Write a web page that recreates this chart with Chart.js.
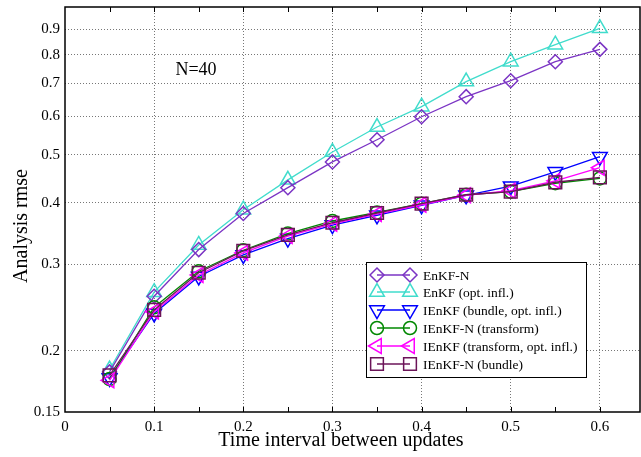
<!DOCTYPE html>
<html>
<head>
<meta charset="utf-8">
<script src="https://cdn.jsdelivr.net/npm/chart.js@4"></script>
<style>
  html, body { margin: 0; padding: 0; background: #fff; }
  #wrap { width: 641px; height: 457px; }
</style>
</head>
<body>
<div id="wrap"><canvas id="myChart" width="641" height="457"></canvas></div>
<script>
// values
const timeInterval = [0.05, 0.1, 0.15, 0.2, 0.25, 0.3, 0.35, 0.4, 0.45, 0.5, 0.55, 0.6];
const enkfN = [0.181, 0.258, 0.321, 0.380, 0.429, 0.484, 0.537, 0.598, 0.657, 0.708, 0.774, 0.820];
const enkfOptInfl = [0.183, 0.263, 0.328, 0.387, 0.445, 0.507, 0.570, 0.627, 0.705, 0.774, 0.838, 0.905];
const ienkfBundleOpt = [0.176, 0.238, 0.283, 0.313, 0.338, 0.360, 0.377, 0.395, 0.414, 0.432, 0.462, 0.496];
const ienkfNTransform = [0.175, 0.245, 0.290, 0.320, 0.346, 0.367, 0.382, 0.398, 0.415, 0.421, 0.438, 0.448];
const ienkfTransformOpt = [0.174, 0.240, 0.285, 0.316, 0.342, 0.362, 0.379, 0.396, 0.414, 0.423, 0.443, 0.471];
const ienkfNBundle = [0.178, 0.242, 0.288, 0.319, 0.344, 0.364, 0.381, 0.398, 0.415, 0.421, 0.440, 0.450];

const seriesNames = ['EnKF-N', 'EnKF (opt. infl.)', 'IEnKF (bundle, opt. infl.)', 'IEnKF-N (transform)',
    'IEnKF (transform, opt. infl.)', 'IEnKF-N (bundle)'];
const xTicks = [0, 0.1, 0.2, 0.3, 0.4, 0.5, 0.6];
const yTicks = [0.15, 0.2, 0.3, 0.4, 0.5, 0.6, 0.7, 0.8, 0.9];

const SERIF = "'Liberation Serif', 'DejaVu Serif', serif";

function toPoints(ys) {
    return ys.map((y, i) => ({ x: timeInterval[i], y: y }));
}

function series(label, ys, color, style, rotation, radius, order) {
    return {
        label: label,
        data: toPoints(ys),
        borderColor: color,
        backgroundColor: 'rgba(0,0,0,0)',
        borderWidth: 1.3,
        pointStyle: style,
        rotation: rotation,
        pointRadius: radius,
        pointHoverRadius: radius,
        pointBorderWidth: 1.5,
        pointBorderColor: color,
        pointBackgroundColor: 'rgba(0,0,0,0)',
        tension: 0,
        order: order
    };
}

const datasets = [
    series(seriesNames[0], enkfN, '#7B34C4', 'rectRot', 0, 7, 5),
    series(seriesNames[1], enkfOptInfl, '#40DCCC', 'triangle', 0, 8.5, 6),
    series(seriesNames[2], ienkfBundleOpt, '#0000FF', 'triangle', 180, 8.5, 4),
    series(seriesNames[3], ienkfNTransform, '#008800', 'circle', 0, 6.5, 3),
    series(seriesNames[4], ienkfTransformOpt, '#FF00FF', 'triangle', -90, 8.5, 2),
    series(seriesNames[5], ienkfNBundle, '#6B1458', 'rect', 0, 9, 1)
];

// frame, inner ticks, axis titles, annotation and the two-marker legend
const decorations = {
    id: 'decorations',
    afterDraw(chart) {
        const ctx = chart.ctx;
        const a = chart.chartArea;
        const xs = chart.scales.x;
        ctx.save();
        ctx.strokeStyle = '#000';
        ctx.lineWidth = 1.5;
        ctx.strokeRect(a.left, a.top, a.right - a.left, a.bottom - a.top);
        ctx.lineWidth = 1;
        for (let v = 0.05; v < 0.645; v += 0.05) {
            const px = Math.round(xs.getPixelForValue(v)) + 0.5;
            ctx.beginPath();
            ctx.moveTo(px, a.bottom); ctx.lineTo(px, a.bottom - 5);
            ctx.moveTo(px, a.top); ctx.lineTo(px, a.top + 5);
            ctx.stroke();
        }

        ctx.fillStyle = '#000';
        ctx.font = '20px ' + SERIF;
        ctx.textAlign = 'center';
        ctx.textBaseline = 'middle';
        ctx.fillText('Time interval between updates', 341, 441);
        ctx.save();
        ctx.translate(22, 226);
        ctx.rotate(-Math.PI / 2);
        ctx.fillText('Analysis rmse', 0, 0);
        ctx.restore();

        ctx.font = '18px ' + SERIF;
        ctx.fillText('N=40', 196, 70);

        // legend box
        ctx.fillStyle = '#fff';
        ctx.fillRect(366, 262, 220, 115);
        ctx.strokeStyle = '#000';
        ctx.lineWidth = 1;
        ctx.strokeRect(366.5, 262.5, 220, 115);
        const rows = [275, 292, 310, 328, 346, 364];
        ctx.font = '13.5px ' + SERIF;
        ctx.textAlign = 'left';
        chart.data.datasets.forEach((ds, i) => {
            const y = rows[i];
            ctx.strokeStyle = ds.borderColor;
            ctx.lineWidth = 1.3;
            ctx.beginPath();
            ctx.moveTo(377, y); ctx.lineTo(410, y);
            ctx.stroke();
            const opts = {
                pointStyle: ds.pointStyle, rotation: ds.rotation,
                radius: ds.pointRadius, borderWidth: 1.5
            };
            ctx.fillStyle = 'rgba(0,0,0,0)';
            ctx.lineWidth = 1.5;
            Chart.helpers.drawPoint(ctx, opts, 377, y);
            Chart.helpers.drawPoint(ctx, opts, 410, y);
            ctx.fillStyle = '#000';
            ctx.fillText(ds.label, 423, y + 1);
        });
        ctx.restore();
    }
};

const ctx = document.getElementById('myChart').getContext('2d');
const myChart = new Chart(ctx, {
    type: 'line',
    data: { datasets: datasets },
    options: {
        responsive: false,
        animation: false,
        layout: { autoPadding: false, padding: { top: 7, right: 1, left: 0, bottom: 0 } },
        plugins: {
            legend: { display: false },
            tooltip: { enabled: false }
        },
        scales: {
            x: {
                type: 'linear',
                min: 0,
                max: 0.645,
                afterBuildTicks: scale => { scale.ticks = xTicks.map(v => ({ value: v })); },
                afterFit: scale => {
                    scale.height = 45;
                    scale.paddingLeft = 0;
                    scale.paddingRight = 0;
                },
                ticks: {
                    color: '#000',
                    padding: 6,
                    maxRotation: 0,
                    font: { size: 15, family: SERIF },
                    callback: v => v === 0 ? '0' : v.toFixed(1)
                },
                grid: {
                    drawTicks: false,
                    color: c => (c.tick && c.tick.value === 0) ? 'rgba(0,0,0,0)' : '#777',
                    lineWidth: 1
                },
                border: { display: false, dash: [1, 2] }
            },
            y: {
                type: 'logarithmic',
                min: 0.15,
                max: 1.0,
                afterBuildTicks: scale => { scale.ticks = yTicks.map(v => ({ value: v })); },
                afterFit: scale => {
                    scale.width = 65;
                    scale.paddingTop = 0;
                    scale.paddingBottom = 0;
                },
                ticks: {
                    color: '#000',
                    padding: 5,
                    font: { size: 15, family: SERIF },
                    callback: v => v === 0.15 ? '0.15' : v.toFixed(1)
                },
                grid: {
                    drawTicks: false,
                    color: c => (c.tick && c.tick.value === 0.15) ? 'rgba(0,0,0,0)' : '#777',
                    lineWidth: 1
                },
                border: { display: false, dash: [1, 2] }
            }
        }
    },
    plugins: [decorations]
});
</script>
</body>
</html>
